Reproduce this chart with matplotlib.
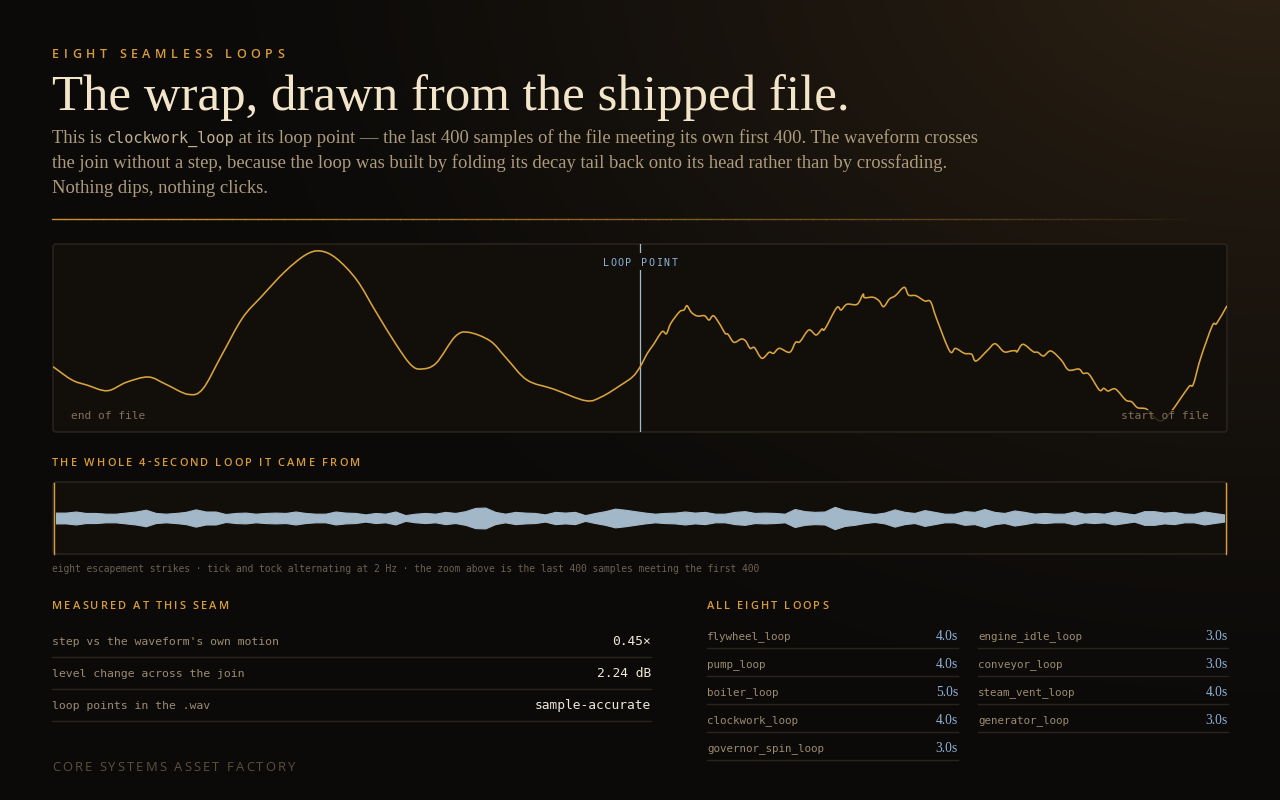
import numpy as np
import matplotlib
matplotlib.use("Agg")
import matplotlib.pyplot as plt
from matplotlib.patches import FancyBboxPatch, Rectangle, PathPatch
from matplotlib.path import Path
from matplotlib.collections import LineCollection

# ---------------- data ----------------
# last 400 samples of the file (offset relative to the loop point) and amplitude
tail_offset = [-400, -387, -377, -363, -350, -335, -323, -308, -298, -285,
               -271, -258, -242, -228, -218, -207, -193, -180, -166, -156,
               -149, -139, -126, -117, -102, -91, -77, -59, -37, -26,
               -13, -5, 0]
tail_amp = [-0.305, -0.447, -0.500, -0.561, -0.471, -0.415, -0.493, -0.599, -0.543, -0.181,
            0.210, 0.440, 0.706, 0.883, 0.926, 0.848, 0.617, 0.280, -0.074, -0.287,
            -0.330, -0.269, 0.014, 0.061, -0.032, -0.216, -0.447, -0.543, -0.667, -0.624,
            -0.500, -0.412, -0.309]
# first 400 samples of the file
head_offset = [5, 9, 15, 18, 21, 27, 30, 32, 35, 39,
               44, 47, 50, 54, 58, 60, 64, 69, 72, 75,
               78, 83, 88, 91, 95, 102, 106, 109, 115, 120,
               124, 126, 134, 137, 141, 148, 152, 153, 159, 163,
               166, 170, 174, 180, 183, 188, 194, 198, 202, 211,
               215, 221, 226, 229, 237, 242, 248, 253, 256, 257,
               261, 268, 271, 275, 280, 287, 292, 299, 302, 306,
               313, 316, 319, 324, 331, 335, 339, 345, 350, 355,
               360, 365, 374, 377, 382, 390, 393, 400]
head_amp = [-0.163, -0.074, 0.067, 0.046, 0.156, 0.280, 0.298, 0.344, 0.273, 0.234,
            0.237, 0.191, 0.237, 0.156, 0.050, 0.039, -0.046, -0.011, -0.032, -0.110,
            -0.103, -0.216, -0.152, -0.163, -0.110, -0.152, -0.046, -0.039, 0.085, 0.032,
            0.096, 0.096, 0.322, 0.298, 0.359, 0.359, 0.465, 0.429, 0.433, 0.394,
            0.333, 0.415, 0.450, 0.539, 0.457, 0.450, 0.394, 0.386, 0.210, -0.138,
            -0.110, -0.163, -0.173, -0.245, -0.128, -0.061, -0.146, -0.138, -0.135, -0.146,
            -0.067, -0.146, -0.152, -0.191, -0.138, -0.234, -0.340, -0.330, -0.376, -0.386,
            -0.553, -0.535, -0.564, -0.543, -0.660, -0.678, -0.741, -0.755, -0.837, -0.883,
            -0.819, -0.720, -0.518, -0.493, -0.216, 0.131, 0.156, 0.344]

# peak envelope of the whole 4-second loop (evenly spaced over the loop)
loop_seconds = 4.0
overview_peak = [
    0.15, 0.15, 0.18, 0.14, 0.14, 0.12, 0.12, 0.15, 0.18, 0.23, 0.14, 0.12, 0.14, 0.17, 0.24,
    0.18, 0.18, 0.11, 0.14, 0.15, 0.12, 0.14, 0.15, 0.14, 0.18, 0.14, 0.12, 0.12, 0.18, 0.15,
    0.14, 0.10, 0.14, 0.12, 0.18, 0.08, 0.12, 0.14, 0.12, 0.17, 0.14, 0.19, 0.28, 0.29, 0.17,
    0.12, 0.17, 0.15, 0.14, 0.10, 0.17, 0.15, 0.17, 0.08, 0.14, 0.19, 0.26, 0.23, 0.19,
    0.15, 0.12, 0.14, 0.15, 0.18, 0.15, 0.17, 0.12, 0.12, 0.17, 0.19, 0.14, 0.15, 0.14, 0.12,
    0.25, 0.19, 0.17, 0.18, 0.31, 0.22, 0.19, 0.14, 0.11, 0.15, 0.24, 0.17, 0.14, 0.22,
    0.17, 0.12, 0.12, 0.19, 0.17, 0.25, 0.17, 0.14, 0.21, 0.17, 0.12, 0.14, 0.12, 0.12, 0.18,
    0.12, 0.14, 0.12, 0.18, 0.14, 0.10, 0.19, 0.19, 0.15, 0.17, 0.12, 0.12, 0.18, 0.14, 0.10]

seam_labels = ["step vs the waveform's own motion", "level change across the join",
               "loop points in the .wav"]
seam_values = ["0.45×", "2.24 dB", "sample-accurate"]

loop_names_col1 = ["flywheel_loop", "pump_loop", "boiler_loop", "clockwork_loop",
                   "governor_spin_loop"]
loop_secs_col1 = [4.0, 4.0, 5.0, 4.0, 3.0]
loop_names_col2 = ["engine_idle_loop", "conveyor_loop", "steam_vent_loop", "generator_loop"]
loop_secs_col2 = [3.0, 3.0, 4.0, 3.0]

# ---------------- styles ----------------
ORANGE = '#d89c38'
TITLE = '#f3e5c9'
BODY = '#ad9b7c'
MONO_BODY = '#bfae8f'
PANEL = '#120f0b'
FRAME = '#2c271e'
WAVE = '#d9a33d'
LOOPLINE = '#a6b9ca'
BLUE = '#8fb3da'
LABEL = '#9b8b70'
DIM = '#7e705a'
CAPTION = '#6d6150'
VALUE = '#efe7d9'
RULE = '#2a241c'
FOOTER = '#5c503e'
OVER = '#a2b7c7'

SERIF = ['Liberation Serif', 'DejaVu Serif']
MONO = ['DejaVu Sans Mono']
SANS = ['Open Sans', 'DejaVu Sans']

W, H = 1280, 800
fig = plt.figure(figsize=(W / 100, H / 100), dpi=100)
fig.patch.set_facecolor('#0b0a09')
ax0 = fig.add_axes([0, 0, 1, 1])
yy, xx = np.mgrid[0:H:4, 0:W:4].astype(float)
d = np.hypot(xx - 1260, (yy + 60) * 1.35)
g = np.clip(1 - d / 1150, 0, 1) ** 1.5
base = np.array([11, 10, 9]) / 255
glow = np.array([46, 34, 20]) / 255
img = base + g[..., None] * (glow - base)
ax0.imshow(img, extent=(0, W, H, 0), interpolation='bilinear', aspect='auto', zorder=0)
ax0.set_xlim(0, W)
ax0.set_ylim(H, 0)
ax0.axis('off')

# fading rule under the intro
rx = np.linspace(52, 1200, 90)
rsegs = [[(rx[i], 219.5), (rx[i + 1] + 0.6, 219.5)] for i in range(len(rx) - 1)]
rt = np.linspace(0, 1, len(rsegs))
rcols = [(0.84, 0.60, 0.20, 0.95 * (1 - v) ** 0.7) for v in rt]
ax0.add_collection(LineCollection(rsegs, colors=rcols, lw=1.0, zorder=3,
                                  capstyle='butt', snap=False, antialiased=True))

R = fig.canvas.get_renderer()


def textw(s, size, family, weight='normal'):
    t = ax0.text(0, 0, s + '|', fontsize=size * 0.72, family=family, weight=weight)
    w1 = t.get_window_extent(R).width
    t.set_text('|')
    w2 = t.get_window_extent(R).width
    t.remove()
    return w1 - w2


def put(ax, x, y, s, size, family, color, ha='left', **kw):
    return ax.text(x, y, s, fontsize=size * 0.72, family=family, color=color,
                   ha=ha, va='baseline', **kw)


def fit(s, target, family, base=20.0):
    return base * target / textw(s, base, family)


def spaced(ax, x, y, s, size, family, color, target, ha='left', weight='normal'):
    n = len(s)
    nat = textw(s, size, family, weight)
    sp = (target - nat) / (n - 1)
    x0 = x if ha == 'left' else (x - target / 2 if ha == 'center' else x - target)
    for i, ch in enumerate(s):
        if ch == ' ':
            continue
        px = x0 + (textw(s[:i], size, family, weight) if i else 0) + i * sp
        put(ax, px, y, ch, size, family, color, weight=weight)


def panel(x0, y0, x1, y1):
    p = FancyBboxPatch((x0, y0), x1 - x0, y1 - y0,
                       boxstyle='round,pad=0,rounding_size=3',
                       fc=PANEL, ec=FRAME, lw=1.0, zorder=2)
    ax0.add_patch(p)


def px_axes(x0, y0, x1, y1):
    a = fig.add_axes([x0 / W, 1 - y1 / H, (x1 - x0) / W, (y1 - y0) / H])
    a.patch.set_alpha(0)
    a.axis('off')
    return a


def smooth_path(xv, yv):
    # Catmull-Rom curve through the points, drawn as cubic Bezier segments
    P = np.column_stack([xv, yv])
    n = len(P)
    verts = [P[0]]
    codes = [Path.MOVETO]
    for i in range(n - 1):
        p0 = P[i - 1] if i > 0 else P[i]
        p1, p2 = P[i], P[i + 1]
        p3 = P[i + 2] if i + 2 < n else P[i + 1]
        verts += [p1 + (p2 - p0) / 6.0, p2 - (p3 - p1) / 6.0, p2]
        codes += [Path.CURVE4] * 3
    return Path(verts, codes)


# ---------------- header ----------------
spaced(ax0, 52, 58, "EIGHT SEAMLESS LOOPS", 12.5, SANS, ORANGE, 232, weight='semibold')
title = "The wrap, drawn from the shipped file."
put(ax0, 52, 110, title, fit(title, 798, SERIF), SERIF, TITLE)

line2 = ("the join without a step, because the loop was built by folding its decay "
         "tail back onto its head rather than by crossfading.")
psize = fit(line2, 894, SERIF)
msize = fit("clockwork_loop", 128, MONO)
x = 52
for seg, fam, col, sz in [("This is ", SERIF, BODY, psize),
                          ("clockwork_loop", MONO, MONO_BODY, msize),
                          (" at its loop point — the last 400 samples of the file meeting its own "
                           "first 400. The waveform crosses", SERIF, BODY, psize)]:
    put(ax0, x, 143, seg, sz, fam, col)
    x += textw(seg, sz, fam)
put(ax0, 52, 168, line2, psize, SERIF, BODY)
put(ax0, 52, 193, "Nothing dips, nothing clicks.", psize, SERIF, BODY)

# ---------------- zoom on the seam ----------------
panel(53, 244, 1227, 432)
axm = px_axes(53, 244, 1227, 432)
offs = np.array(tail_offset + head_offset, dtype=float)
amps = np.array(tail_amp + head_amp)
axm.add_patch(PathPatch(smooth_path(offs, amps), fill=False, ec=WAVE, lw=1.15,
                        joinstyle='round', zorder=3))
axm.axvline(0, color=LOOPLINE, lw=0.9, zorder=2)
axm.set_xlim(-400, 400)
axm.set_ylim(-1, 1)

# ---------------- overview ----------------
spaced(ax0, 52, 465.5, "THE WHOLE 4-SECOND LOOP IT CAME FROM", 11, SANS, ORANGE, 308,
       weight='semibold')
panel(53, 482, 1227, 554)
axo = px_axes(53, 482, 1227, 554)
peak = np.array(overview_peak)
t = np.linspace(0.01, loop_seconds - 0.01, len(peak))
axo.fill_between(t, -peak, peak, color=OVER, lw=0.8, edgecolor=OVER)
axo.set_xlim(0, loop_seconds)
axo.set_ylim(-1, 1)

cap = ("eight escapement strikes · tick and tock alternating at 2 Hz · the zoom above "
       "is the last 400 samples meeting the first 400")
put(ax0, 52, 572, cap, fit(cap, 710, MONO), MONO, CAPTION)

# ---------------- seam measurements ----------------
spaced(ax0, 52, 609, "MEASURED AT THIS SEAM", 11, SANS, ORANGE, 177, weight='semibold')
lsize = fit(seam_labels[0], 227, MONO)
vsize = fit("sample-accurate", 116, MONO)
for i, (lab, val) in enumerate(zip(seam_labels, seam_values)):
    yb = 645 + 32 * i
    put(ax0, 52, yb, lab, lsize, MONO, LABEL)
    put(ax0, 651, yb, val, vsize, MONO, VALUE, ha='right')
    ax0.plot([52, 651], [656.5 + 32 * i] * 2, color=RULE, lw=1.0, zorder=3)

spaced(ax0, 52, 771, "CORE SYSTEMS ASSET FACTORY", 13, SANS, FOOTER, 243)

# ---------------- all loops ----------------
spaced(ax0, 707, 609, "ALL EIGHT LOOPS", 11, SANS, ORANGE, 121, weight='semibold')
nsize = fit("governor_spin_loop", 118, MONO)
for (names, secs, xl, xr) in [(loop_names_col1, loop_secs_col1, 707, 958),
                              (loop_names_col2, loop_secs_col2, 978, 1228)]:
    for i, (nm, s) in enumerate(zip(names, secs)):
        yb = 639.5 + 28 * i
        put(ax0, xl, yb, nm, nsize, MONO, LABEL)
        put(ax0, xr, yb, f"{s:.1f}s", 13.5, SERIF, BLUE, ha='right')
        ax0.plot([xl, xr], [647.5 + 28 * i] * 2, color=RULE, lw=1.0, zorder=3)

# ---------------- overlay labels ----------------
axv = fig.add_axes([0, 0, 1, 1])
axv.set_xlim(0, W)
axv.set_ylim(H, 0)
axv.axis('off')
axv.patch.set_alpha(0)
axv.add_patch(Rectangle((597, 252.5), 86, 17, fc=PANEL, ec='none'))
spaced(axv, 640, 265.5, "LOOP POINT", 10, MONO, BLUE, 75, ha='center')
put(axv, 71, 419, "end of file", 11.2, MONO, DIM)
put(axv, 1209, 419, "start of file", 11.2, MONO, DIM, ha='right',
    bbox=dict(boxstyle='square,pad=0.12', fc=PANEL, ec='none', alpha=0.82))
axv.plot([53.6, 53.6], [482.5, 553.5], color=ORANGE, lw=1.0)
axv.plot([1226.4, 1226.4], [482.5, 553.5], color=ORANGE, lw=1.0)

fig.savefig("out.png", dpi=100, facecolor=fig.get_facecolor())
